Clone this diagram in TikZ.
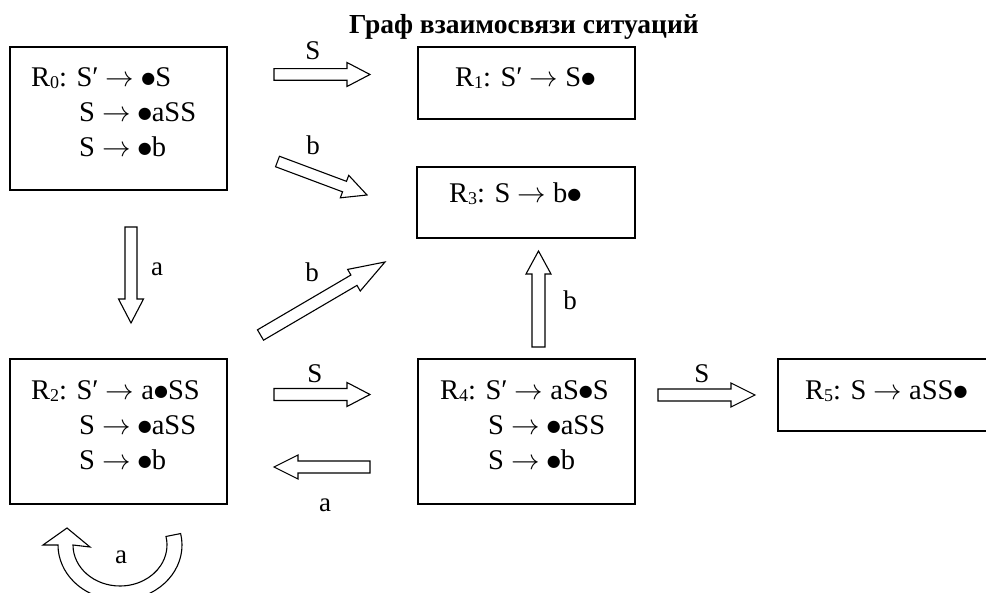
\documentclass[tikz,border=0pt]{standalone}
\usepackage{fix-cm}
\usepackage{fontspec}
\setmainfont{Liberation Serif}
\newfontfamily\dotfont{DejaVu Sans}
\usetikzlibrary{calc}

% lowered index of a situation name
\newcommand{\lowidx}[1]{\raisebox{-2pt}{\fontsize{18}{18}\selectfont #1}}
% production arrow and item marker
\newcommand{\rarr}{$\rightarrow$}
\newcommand{\blt}{\raisebox{3.6pt}{\dotfont\fontsize{16}{16}\selectfont ●}}

% outlined block arrow: tail, tip, shaft half width, head half width, head length
\newcommand{\blkarrow}[5]{%
  \coordinate (hb) at ($(#2)!#5!(#1)$);
  \draw[blk] ($(#1)!#3!90:(#2)$) -- ($(hb)!#3!90:(#2)$) -- ($(hb)!#4!90:(#2)$)
    -- (#2) -- ($(hb)!#4!-90:(#2)$) -- ($(hb)!#3!-90:(#2)$)
    -- ($(#1)!#3!-90:(#2)$) -- cycle;}

\tikzset{
  box/.style={draw, rectangle, line width=1.4pt, inner sep=0pt},
  txt/.style={inner sep=0pt, font=\fontsize{28.5}{28.5}\selectfont},
  lbl/.style={inner sep=0pt, anchor=base, font=\fontsize{27}{27}\selectfont},
  blk/.style={draw, line width=1.1pt, fill=white, line join=miter},
}

\begin{document}
\begin{tikzpicture}[x=1pt, y=1pt, yscale=-1]
\useasboundingbox (0,0) rectangle (986,593);
\clip (0,0) rectangle (986,593);

% title
\node[inner sep=0pt, anchor=base, font=\fontsize{27.5}{27.5}\selectfont\bfseries] (title) at (524,34) {Граф взаимосвязи ситуаций};

% situation boxes
\node[box, minimum width=217pt, minimum height=143pt] (R0) at (118.5,118.5) {};
\node[box, minimum width=217pt, minimum height=72pt]  (R1) at (526.5,83) {};
\node[box, minimum width=218pt, minimum height=71pt]  (R3) at (526,202.5) {};
\node[box, minimum width=217pt, minimum height=145pt] (R2) at (118.5,431.5) {};
\node[box, minimum width=217pt, minimum height=145pt] (R4) at (526.5,431.5) {};
\node[box, minimum width=240pt, minimum height=72pt]  (R5) at (898,395) {};

% contents of the boxes
\node[txt, anchor=base west] (r0a) at (31,87)  {R\lowidx{0}: S′ \rarr{} \blt S};
\node[txt, anchor=base west] (r0b) at (79,122) {S \rarr{} \blt aSS};
\node[txt, anchor=base west] (r0c) at (79,157) {S \rarr{} \blt b};
\node[txt, anchor=base west] (r1a) at (455,87) {R\lowidx{1}: S′ \rarr{} S\blt};
\node[txt, anchor=base west] (r3a) at (449,203) {R\lowidx{3}: S \rarr{} b\blt};
\node[txt, anchor=base west] (r2a) at (31,400) {R\lowidx{2}: S′ \rarr{} a\blt SS};
\node[txt, anchor=base west] (r2b) at (79,435) {S \rarr{} \blt aSS};
\node[txt, anchor=base west] (r2c) at (79,470) {S \rarr{} \blt b};
\node[txt, anchor=base west] (r4a) at (440,400) {R\lowidx{4}: S′ \rarr{} aS\blt S};
\node[txt, anchor=base west] (r4b) at (488,435) {S \rarr{} \blt aSS};
\node[txt, anchor=base west] (r4c) at (488,470) {S \rarr{} \blt b};
\node[txt, anchor=base west] (r5a) at (805,400) {R\lowidx{5}: S \rarr{} aSS\blt};

% arrow ends
\coordinate (t01) at (274,74.5);  \coordinate (h01) at (370,74.5);
\coordinate (t03) at (277.5,161.5); \coordinate (h03) at (367,195);
\coordinate (t02) at (131,227);   \coordinate (h02) at (131,323);
\coordinate (t23) at (260.5,335); \coordinate (h23) at (385,262);
\coordinate (t24) at (274,394.5); \coordinate (h24) at (370,394.5);
\coordinate (t42) at (370,467);   \coordinate (h42) at (274,467);
\coordinate (t43) at (538.5,347); \coordinate (h43) at (538.5,251);
\coordinate (t45) at (658,395);   \coordinate (h45) at (755,395);

% transitions
\blkarrow{t01}{h01}{5.8pt}{12pt}{23pt}
\blkarrow{t03}{h03}{5.6pt}{12pt}{24pt}
\blkarrow{t02}{h02}{6pt}{12.5pt}{24pt}
\blkarrow{t23}{h23}{6pt}{12.5pt}{36pt}
\blkarrow{t24}{h24}{6pt}{12pt}{23pt}
\blkarrow{t42}{h42}{6pt}{12pt}{24pt}
\blkarrow{t43}{h43}{6.5pt}{12.5pt}{23pt}
\blkarrow{t45}{h45}{6pt}{12pt}{24pt}

% self-loop on R2
\coordinate (lc) at (120,545);
\draw[blk] ($(lc)+(-12:62 and 55)$) arc[start angle=-12, end angle=180, x radius=62, y radius=55]
  -- (43,545) -- (67,528) -- (90,547) -- (73,545)
  arc[start angle=180, end angle=-12, x radius=47, y radius=41] -- cycle;

% transition labels
\node[lbl] (l01) at (313,60)  {S};
\node[lbl] (l03) at (313,155) {b};
\node[lbl] (l02) at (157,276) {a};
\node[lbl] (l23) at (312,282) {b};
\node[lbl] (l24) at (315,383) {S};
\node[lbl] (l42) at (325,512) {a};
\node[lbl] (l43) at (570,310) {b};
\node[lbl] (l45) at (702,383) {S};
\node[lbl] (l22) at (121,563) {a};
\end{tikzpicture}
\end{document}
